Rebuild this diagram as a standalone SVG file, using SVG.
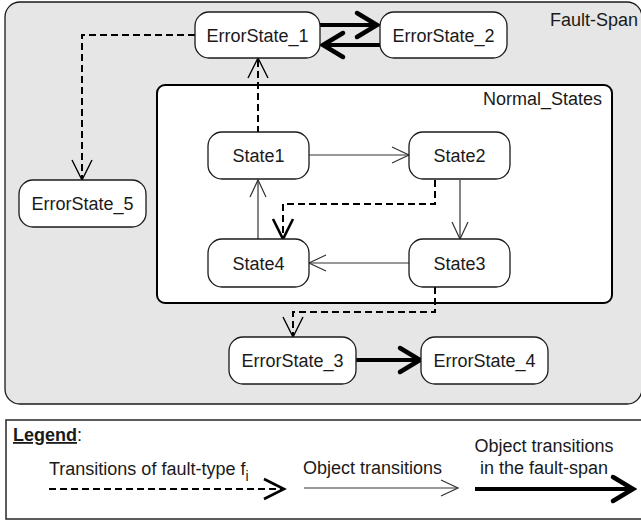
<svg xmlns="http://www.w3.org/2000/svg" width="641" height="523" viewBox="0 0 641 523">
  <style>
    text { font-family: "Liberation Sans", Arial, sans-serif; font-size: 18px; fill: #1a1a1a; }
    tspan { fill: #1a1a1a; }
    .mid { text-anchor: middle; }
    .end { text-anchor: end; }
    .state { fill: #ffffff; stroke: #1a1a1a; stroke-width: 1.3; }
    .thin { fill: none; stroke: #333333; stroke-width: 1.2; }
    .thick { fill: none; stroke: #000000; stroke-width: 4; }
    .fault { fill: none; stroke: #000000; stroke-width: 2; stroke-dasharray: 7 4; }
  </style>
  <defs>
    <marker id="head-thin" markerUnits="userSpaceOnUse" markerWidth="40" markerHeight="40" refX="0" refY="0" orient="auto" overflow="visible">
      <path d="M-17,-8 L0,0 L-17,8" fill="none" stroke="#333333" stroke-width="1.2"/>
    </marker>
    <marker id="head-thick" markerUnits="userSpaceOnUse" markerWidth="40" markerHeight="40" refX="0" refY="0" orient="auto" overflow="visible">
      <path d="M-21,-12 L-1,0 L-21,12" fill="none" stroke="#000000" stroke-width="4.5" stroke-linecap="round"/>
    </marker>
    <marker id="head-fault" markerUnits="userSpaceOnUse" markerWidth="40" markerHeight="40" refX="0" refY="0" orient="auto" overflow="visible">
      <path d="M-20,-10 L0,0 L-20,10" fill="none" stroke="#000000" stroke-width="1.4"/>
    </marker>
    <marker id="head-fault-bold" markerUnits="userSpaceOnUse" markerWidth="40" markerHeight="40" refX="0" refY="0" orient="auto" overflow="visible">
      <path d="M-20,-10 L0,0 L-20,10" fill="none" stroke="#000000" stroke-width="2.6"/>
    </marker>
  </defs>

  <!-- Fault-span region -->
  <g id="fault-span">
    <rect x="5" y="2" width="637" height="402" rx="15" fill="#e6e6e6" stroke="#1a1a1a" stroke-width="1.3"/>
    <text class="end" x="638" y="26">Fault-Span</text>
  </g>

  <!-- Normal states region -->
  <g id="normal-states">
    <rect x="157" y="85" width="455" height="218" rx="8" fill="#ffffff" stroke="#000000" stroke-width="2"/>
    <text class="end" x="602" y="105">Normal_States</text>
  </g>

  <!-- Transitions -->
  <g id="connectors">
    <!-- object transitions -->
    <line class="thin" x1="309" y1="155" x2="409" y2="155" marker-end="url(#head-thin)"/>
    <line class="thin" x1="460" y1="180" x2="460" y2="239" marker-end="url(#head-thin)"/>
    <line class="thin" x1="409" y1="263" x2="309" y2="263" marker-end="url(#head-thin)"/>
    <line class="thin" x1="258" y1="239" x2="258" y2="180" marker-end="url(#head-thin)"/>
    <!-- fault transitions -->
    <polyline class="fault" points="435,180 435,204 283,204 283,239" marker-end="url(#head-fault-bold)"/>
    <line class="fault" x1="258" y1="133" x2="258" y2="58" marker-end="url(#head-fault)"/>
    <polyline class="fault" points="195,35 82,35 82,180" marker-end="url(#head-fault)"/>
    <polyline class="fault" points="435,287 435,312 293,312 293,337" marker-end="url(#head-fault)"/>
    <!-- transitions within the fault-span -->
    <line class="thick" x1="320" y1="25" x2="378" y2="25" marker-end="url(#head-thick)"/>
    <line class="thick" x1="380" y1="45" x2="322" y2="45" marker-end="url(#head-thick)"/>
    <line class="thick" x1="356" y1="360" x2="421" y2="360" marker-end="url(#head-thick)"/>
  </g>

  <g id="ErrorState_1">
    <rect class="state" x="195" y="12" width="125" height="46" rx="14"/>
    <text class="mid" x="257.5" y="41.5">ErrorState_1</text>
  </g>
  <g id="ErrorState_2">
    <rect class="state" x="380" y="12" width="127" height="46" rx="14"/>
    <text class="mid" x="443.5" y="41.5">ErrorState_2</text>
  </g>
  <g id="ErrorState_5">
    <rect class="state" x="19" y="180" width="127" height="47" rx="14"/>
    <text class="mid" x="82.5" y="209.5">ErrorState_5</text>
  </g>
  <g id="State1">
    <rect class="state" x="208" y="132" width="101" height="47" rx="14"/>
    <text class="mid" x="258.5" y="161.5">State1</text>
  </g>
  <g id="State2">
    <rect class="state" x="409" y="132" width="101" height="47" rx="14"/>
    <text class="mid" x="459.5" y="161.5">State2</text>
  </g>
  <g id="State3">
    <rect class="state" x="409" y="239" width="101" height="48" rx="14"/>
    <text class="mid" x="459.5" y="269.5">State3</text>
  </g>
  <g id="State4">
    <rect class="state" x="208" y="239" width="101" height="48" rx="14"/>
    <text class="mid" x="258.5" y="269.5">State4</text>
  </g>
  <g id="ErrorState_3">
    <rect class="state" x="229" y="337" width="127" height="47" rx="14"/>
    <text class="mid" x="292.5" y="366.5">ErrorState_3</text>
  </g>
  <g id="ErrorState_4">
    <rect class="state" x="421" y="337" width="127" height="47" rx="14"/>
    <text class="mid" x="484.5" y="366.5">ErrorState_4</text>
  </g>

  <!-- Legend -->
  <g id="legend">
    <rect x="6" y="420" width="640" height="99" fill="#ffffff" stroke="#333333" stroke-width="1.6"/>
    <text x="13" y="441"><tspan font-weight="bold" text-decoration="underline">Legend</tspan>:</text>
    <text x="49" y="475">Transitions of fault-type f<tspan font-size="14" dy="6">i</tspan></text>
    <line class="fault" x1="49" y1="489" x2="284" y2="489" marker-end="url(#head-fault-bold)"/>
    <text x="303" y="474">Object transitions</text>
    <line class="thin" x1="304" y1="488" x2="458" y2="488" marker-end="url(#head-thin)"/>
    <text class="mid" x="544" y="452">Object transitions</text>
    <text class="mid" x="544" y="474">in the fault-span</text>
    <line class="thick" x1="475" y1="489" x2="634" y2="489" marker-end="url(#head-thick)"/>
  </g>
</svg>
